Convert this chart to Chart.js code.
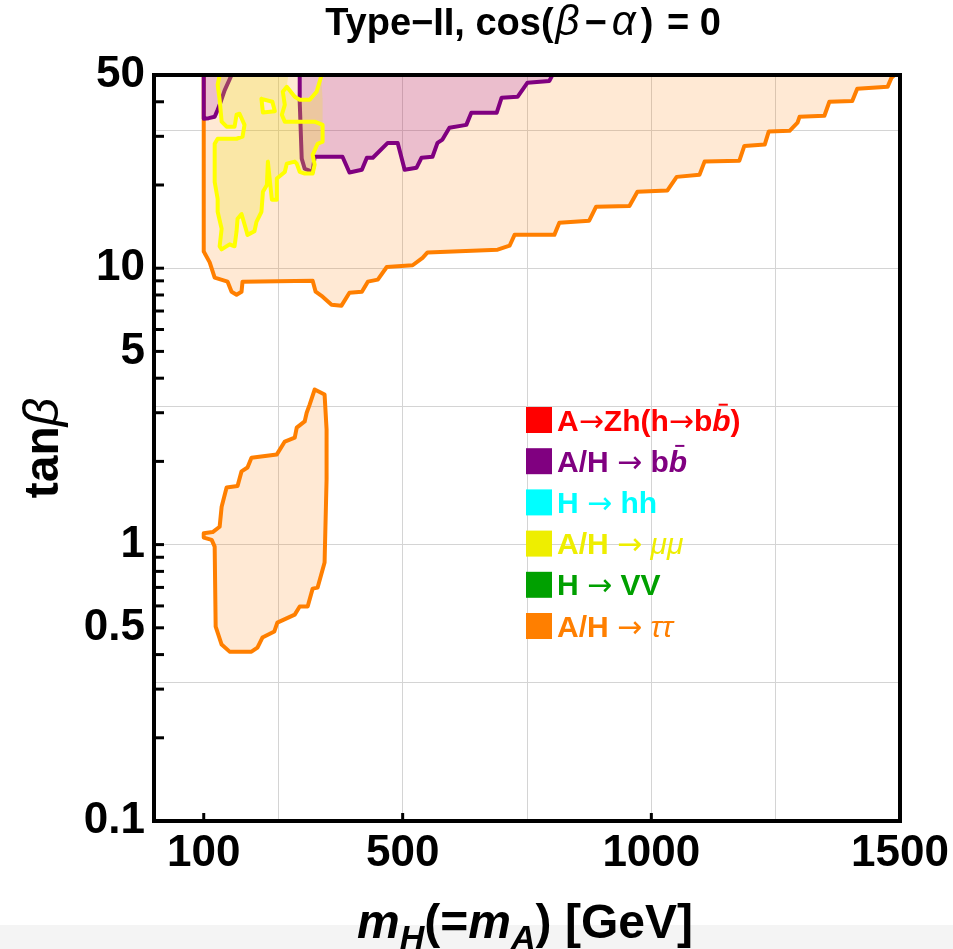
<!DOCTYPE html>
<html>
<head>
<meta charset="utf-8">
<script src="https://cdn.jsdelivr.net/npm/chart.js@4/dist/chart.umd.min.js"></script>
<style>
  html, body { margin: 0; padding: 0; background: #fff; }
  #wrap { position: relative; width: 953px; height: 949px; }
  #strip { position: absolute; left: 0; top: 925px; width: 953px; height: 24px; background: #f4f4f4; }
  #chart { position: absolute; left: 0; top: 0; }
</style>
</head>
<body>
<div id="wrap">
  <div id="strip"></div>
  <canvas id="chart" width="953" height="949"></canvas>
</div>
<script>
// axis ticks
const xTickLabels = [100, 500, 1000, 1500];
const xGridVals = [250, 500, 750, 1000, 1250];
const xTickMarks = [100, 500, 1000];
const yTickLabels = [0.1, 0.5, 1, 5, 10, 50];
const yGridVals = [0.3162, 1, 3.162, 10, 31.62];
const yTickMarks = [0.2, 0.3, 0.4, 0.5, 0.6, 0.7, 0.8, 0.9, 1, 2, 3, 4, 5, 6, 7, 8, 9, 10, 20, 30, 40];

// excluded regions, [mH, tanBeta]
const tauMain = [[100,50],[100,11.5],[112,10.5],[122,9.24],[148,8.94],[156,8.22],[166,8.02],[176,8.22],[178,8.94],
  [319,9.01],[325,8.22],[339,7.89],[357,7.38],[377,7.32],[393,8.15],[418,8.22],[430,8.94],[450,9.09],[468,10.1],
  [520,10.25],[540,10.9],[550,11.4],[691,11.67],[715,12.06],[725,13.2],[805,13.2],[815,14.6],[875,14.85],[889,16.7],
  [956,16.8],[972,18.9],[1032,19.1],[1051,21.4],[1097,21.8],[1107,24.3],[1177,24.5],[1187,27.7],[1228,28],[1236,31.2],
  [1278,31.4],[1294,33.6],[1298,35.3],[1348,35.6],[1358,40],[1404,40.3],[1414,44.6],[1475,45.3],[1483,48.9],[1489,50]];
const tauIsland = [[323,3.64],[343,3.49],[347,2.61],[347,1.72],[343,0.861],[329,0.699],[319,0.693],[309,0.597],
  [293,0.597],[283,0.558],[248,0.522],[242,0.485],[218,0.461],[208,0.424],[196,0.41],[152,0.41],[136,0.435],
  [124,0.505],[122,0.983],[116,1.04],[100,1.06],[100,1.1],[118,1.11],[132,1.16],[136,1.37],[146,1.61],[168,1.63],
  [176,1.84],[188,1.9],[196,2.06],[247,2.12],[263,2.36],[283,2.44],[287,2.65],[303,2.79],[307,3.0],[313,3.21]];
const bbLeft = [[100,50],[100,34.7],[110,34.9],[122,35.3],[128,37.4],[132,39],[142,44],[156,50]];
const bbRight = [[293,50],[293,40],[297,24.9],[303,22.9],[319,22.3],[323,25.3],[333,25.3],[379,25.3],[393,22.2],
  [418,22.7],[428,25.1],[440,25.1],[470,28.4],[490,28.4],[504,22.7],[528,23.1],[538,25.1],[560,25.3],[570,28.4],
  [580,29.2],[594,32.2],[628,33],[638,36.5],[689,36.5],[699,41.4],[731,41.7],[751,46.9],[795,47.6],[801,50]];
const muuFill = [[132,50],[216,50],[216,41],[219,36.6],[243,37],[238,40],[216,41],[216,50],[270,50],[267,45.3],
  [283,41.7],[293,40.7],[313,40.7],[327,43.5],[337,47.8],[339,40.7],[339,33],[339,28.7],[329,28.2],[319,25.7],
  [323,23.7],[319,22],[303,22],[293,22.3],[287,23.9],[283,24.3],[267,23.9],[263,22.3],[247,21.1],[247,17.7],
  [237,17.7],[229,24.3],[227,20],[219,18.9],[216,16],[206,14.7],[202,13.6],[188,13.2],[186,13.6],[176,15.7],
  [168,15.1],[166,13.6],[162,12],[152,12.2],[136,11.7],[132,12],[136,13.9],[128,16],[128,17.8],[122,20.5],
  [122,28.2],[128,29.4],[166,29.4],[178,29.9],[182,33],[172,36.2],[166,35.9],[162,32.5],[146,32.5],[136,33.9],
  [132,40.7],[128,46.1],[132,50]];
const muuEdge = [[337,50],[327,43.5],[313,40.7],[293,40.7],[283,41.7],[267,45.3],[259,43.5],[263,39],[257,35.9],
  [263,33.9],[323,33.9],[339,33],[339,28.7],[329,28.2],[319,25.7],[323,23.7],[319,22],[303,22],[293,22.3],
  [287,23.9],[283,24.3],[267,23.9],[263,22.3],[247,21.1],[247,17.7],[237,17.7],[229,24.3],[227,20],[219,18.9],
  [216,16],[206,14.7],[202,13.6],[188,13.2],[186,13.6],[176,15.7],[168,15.1],[166,13.6],[162,12],[152,12.2],
  [136,11.7],[132,12],[136,13.9],[128,16],[128,17.8],[122,20.5],[122,28.2],[128,29.4],[166,29.4],[178,29.9],
  [182,33],[172,36.2],[166,35.9],[162,32.5],[146,32.5],[136,33.9],[132,40.7],[128,46.1],[132,50]];
const muuHole = [[216,41],[238,40],[243,37],[219,36.6],[216,41]];

// legend
const ARROW = {t: '→', f: "'DejaVu Sans'", w: 'normal'};
const legendColors = ['#ff0000', '#800080', '#00ffff', '#eeee00', '#00a000', '#ff7f00'];
const legendNames = [
  [{t: 'A'}, ARROW, {t: 'Zh(h'}, ARROW, {t: 'b'}, {t: 'b', it: 1, bar: 1}, {t: ')'}],
  [{t: 'A/H '}, ARROW, {t: ' b'}, {t: 'b', it: 1, bar: 1}],
  [{t: 'H '}, ARROW, {t: ' hh'}],
  [{t: 'A/H '}, ARROW, {t: ' '}, {t: 'μμ', it: 1, w: 'normal'}],
  [{t: 'H '}, ARROW, {t: ' VV'}],
  [{t: 'A/H '}, ARROW, {t: ' '}, {t: 'ττ', it: 1, w: 'normal'}]
];

const FONT = "'Liberation Sans', Arial, sans-serif";
const gridColor = '#d4d4d4';

const toPts = (arr) => arr.map(([x, y]) => ({x, y}));
const closed = (arr) => toPts(arr.concat([arr[0]]));

function region(data, line, fillColor, order, width) {
  return {
    data: data,
    showLine: true,
    fill: fillColor ? 'shape' : false,
    backgroundColor: fillColor || 'rgba(0,0,0,0)',
    borderColor: line || 'rgba(0,0,0,0)',
    borderWidth: width === undefined ? 4 : width,
    borderJoinStyle: 'round',
    borderCapStyle: 'round',
    pointRadius: 0,
    tension: 0,
    order: order
  };
}

function runFont(r, size) {
  let s = r.sub ? Math.round(size * 0.7) : size;
  if (r.k) s = Math.round(s * r.k);
  return (r.it ? 'italic ' : '') + (r.w || 'bold') + ' ' + s + 'px ' + (r.f || FONT);
}

function drawRuns(ctx, runs, x, y, size, center) {
  let w = 0;
  runs.forEach(r => { ctx.font = runFont(r, size); w += ctx.measureText(r.t).width + (r.g || 0); });
  let cx = center ? x - w / 2 : x;
  runs.forEach(r => {
    ctx.font = runFont(r, size);
    const rw = ctx.measureText(r.t).width;
    ctx.fillText(r.t, cx, y + (r.sub ? size * 0.22 : 0) + (r.dy || 0));
    if (r.bar) {
      ctx.save();
      ctx.strokeStyle = ctx.fillStyle;
      ctx.lineWidth = 2;
      ctx.beginPath();
      ctx.moveTo(cx + rw * 0.35, y - size * 0.86);
      ctx.lineTo(cx + rw * 0.85, y - size * 0.86);
      ctx.stroke();
      ctx.restore();
    }
    cx += rw + (r.g || 0);
  });
}

const decor = {
  id: 'decor',
  afterDatasetsDraw(chart) {
    const {ctx, chartArea: a, scales: {x, y}} = chart;
    ctx.save();
    ctx.strokeStyle = '#000';
    ctx.lineWidth = 3;
    yTickMarks.forEach(v => {
      const py = y.getPixelForValue(v);
      ctx.beginPath(); ctx.moveTo(a.left, py); ctx.lineTo(a.left + 10, py); ctx.stroke();
    });
    xTickMarks.forEach(v => {
      const px = x.getPixelForValue(v);
      ctx.beginPath(); ctx.moveTo(px, a.bottom); ctx.lineTo(px, a.bottom - 8); ctx.stroke();
    });
    ctx.lineWidth = 4;
    ctx.strokeRect(a.left, a.top, a.right - a.left, a.bottom - a.top);
    ctx.restore();
  },
  afterDraw(chart) {
    const {ctx, chartArea: a} = chart;
    ctx.save();
    ctx.textAlign = 'left';
    ctx.textBaseline = 'alphabetic';

    // title
    ctx.fillStyle = '#000';
    drawRuns(ctx, [{t: 'Type−II, cos(', g: 2}, {t: 'β', it: 1, w: 'normal', k: 1.1, g: 5}, {t: '−', g: 5},
      {t: 'α', it: 1, w: 'normal', k: 1.1, g: 5}, {t: ')', g: 3}, {t: ' = 0'}],
      (a.left + a.right) / 2 - 4, 35, 38, true);

    // x axis title
    drawRuns(ctx, [{t: 'm', it: 1}, {t: 'H', it: 1, sub: 1}, {t: '(='}, {t: 'm', it: 1}, {t: 'A', it: 1, sub: 1},
      {t: ') [GeV]'}], (a.left + a.right) / 2 - 2, 938, 48, true);

    // y axis title
    ctx.save();
    ctx.translate(58, 448);
    ctx.rotate(-Math.PI / 2);
    drawRuns(ctx, [{t: 'tan'}, {t: 'β', it: 1, w: 'normal', k: 1.05}], 0, 0, 48, true);
    ctx.restore();

    // legend
    const lx = a.left + 372, ly = a.top + 332, step = 41.2, box = 26;
    legendNames.forEach((runs, i) => {
      const top = ly + i * step;
      ctx.fillStyle = legendColors[i];
      ctx.fillRect(lx, top, box, box);
      drawRuns(ctx, runs, lx + 31, top + box / 2 + 10.5, 30, false);
    });
    ctx.restore();
  }
};

new Chart(document.getElementById('chart'), {
  type: 'scatter',
  data: {
    datasets: [
      region(closed(tauMain), '#ff7f00', 'rgba(255,127,0,0.17)', 60),
      region(closed(tauIsland), '#ff7f00', 'rgba(255,127,0,0.17)', 50),
      region(closed(bbLeft), '#800080', 'rgba(150,0,170,0.19)', 40),
      region(closed(bbRight), '#800080', 'rgba(150,0,170,0.19)', 30),
      region(toPts(muuFill), null, 'rgba(236,226,30,0.26)', 20, 0),
      region(toPts(muuEdge), '#ffff00', null, 10),
      region(toPts(muuHole), '#ffff00', null, 9)
    ]
  },
  options: {
    responsive: false,
    animation: false,
    events: [],
    layout: {padding: {top: 75, right: 53, left: 0, bottom: 0}},
    plugins: {legend: {display: false}, tooltip: {enabled: false}, title: {display: false}},
    scales: {
      x: {
        type: 'linear', min: 0, max: 1500,
        afterBuildTicks: s => { s.ticks = xTickLabels.concat([250, 750, 1250]).map(v => ({value: v})); },
        afterFit: s => { s.height = 128; },
        border: {display: false},
        grid: {drawTicks: false, lineWidth: 1, color: c => xGridVals.includes(c.tick.value) ? gridColor : 'rgba(0,0,0,0)'},
        ticks: {autoSkip: false, maxRotation: 0, padding: 6, color: '#000',
          font: {family: FONT, size: 44, weight: 'bold'},
          callback: v => xTickLabels.includes(v) ? String(v) : ''}
      },
      y: {
        type: 'logarithmic', min: 0.1, max: 50,
        afterBuildTicks: s => { s.ticks = yTickLabels.concat([0.3162, 3.162, 31.62]).map(v => ({value: v})); },
        afterFit: s => { s.width = 154; },
        border: {display: false},
        grid: {drawTicks: false, lineWidth: 1, color: c => yGridVals.includes(c.tick.value) ? gridColor : 'rgba(0,0,0,0)'},
        ticks: {autoSkip: false, padding: 9, color: '#000',
          font: {family: FONT, size: 44, weight: 'bold'},
          callback: v => yTickLabels.includes(v) ? String(v) : ''}
      }
    }
  },
  plugins: [decor]
});
</script>
</body>
</html>
